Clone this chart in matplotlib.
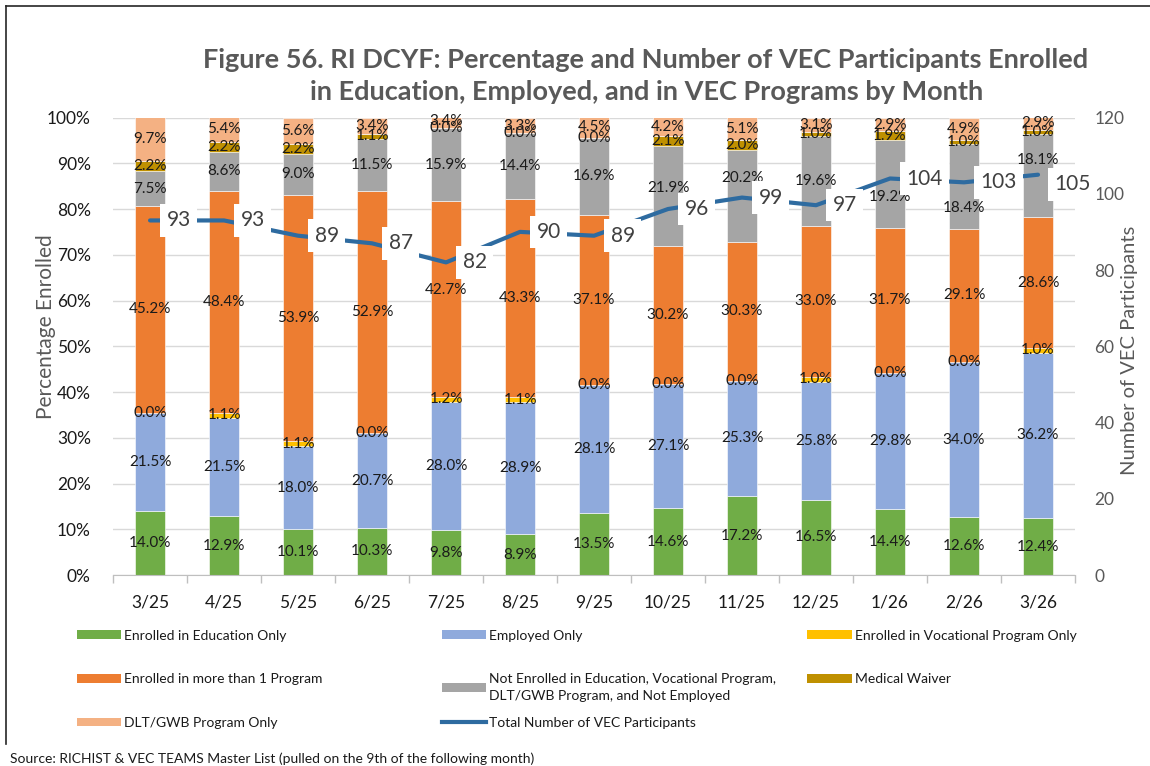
import numpy as np
import matplotlib
matplotlib.use('Agg')
import matplotlib.pyplot as plt
from matplotlib.patches import Patch
from matplotlib.lines import Line2D

plt.rcParams['font.family'] = ['Lato', 'DejaVu Sans']

# 月份与各类别百分比
months = ['3/25', '4/25', '5/25', '6/25', '7/25', '8/25', '9/25',
          '10/25', '11/25', '12/25', '1/26', '2/26', '3/26']
edu_only = [14.0, 12.9, 10.1, 10.3, 9.8, 8.9, 13.5, 14.6, 17.2, 16.5, 14.4, 12.6, 12.4]
employed_only = [21.5, 21.5, 18.0, 20.7, 28.0, 28.9, 28.1, 27.1, 25.3, 25.8, 29.8, 34.0, 36.2]
voc_only = [0.0, 1.1, 1.1, 0.0, 1.2, 1.1, 0.0, 0.0, 0.0, 1.0, 0.0, 0.0, 1.0]
multi_prog = [45.2, 48.4, 53.9, 52.9, 42.7, 43.3, 37.1, 30.2, 30.3, 33.0, 31.7, 29.1, 28.6]
not_enrolled = [7.5, 8.6, 9.0, 11.5, 15.9, 14.4, 16.9, 21.9, 20.2, 19.6, 19.2, 18.4, 18.1]
med_waiver = [2.2, 2.2, 2.2, 1.1, 0.0, 0.0, 0.0, 2.1, 2.0, 1.0, 1.9, 1.0, 1.0]
dlt_only = [9.7, 5.4, 5.6, 3.4, 3.4, 3.3, 4.5, 4.2, 5.1, 3.1, 2.9, 4.9, 2.9]
# VEC总人数
total_vec = [93, 93, 89, 87, 82, 90, 89, 96, 99, 97, 104, 103, 105]

# 部分数据标签手动挪开，避免与折线标签重叠（单位：百分点）
multi_nudge = [0, 0, 0, 0, 2.0, 0, 0, 0, 0, 0, 0, 0, 0]
not_enrolled_nudge = [0, 0, 0, 0, 0, 0, 0, 1.7, 3.9, 0, -2.8, -4.6, 3.5]
zero_nudge = [0] * len(months)
# 折线标签的竖直偏移（单位：磅）
total_nudge = [0, 0, 0, 0, 0, 0, 0, 0, 0, 0, 0, 0, -7]

series = [
    ('Enrolled in Education Only', edu_only, '#70AD47', zero_nudge),
    ('Employed Only', employed_only, '#8FAADC', zero_nudge),
    ('Enrolled in Vocational Program Only', voc_only, '#FFC000', zero_nudge),
    ('Enrolled in more than 1 Program', multi_prog, '#ED7D31', multi_nudge),
    ('Not Enrolled in Education, Vocational Program,\nDLT/GWB Program, and Not Employed',
     not_enrolled, '#A5A5A5', not_enrolled_nudge),
    ('Medical Waiver', med_waiver, '#BF9000', zero_nudge),
    ('DLT/GWB Program Only', dlt_only, '#F4B183', zero_nudge),
]
line_color = '#2E6BA0'

fig = plt.figure(figsize=(11.5, 7.66), dpi=100)
ax = fig.add_axes([0.0983, 0.2493, 0.8365, 0.5973])
x = np.arange(len(months))

# 堆积柱状图 + 数据标签
bottom = np.zeros(len(months))
handles = {}
for name, vals, color, nudge in series:
    vals = np.array(vals)
    ax.bar(x, vals, 0.405, bottom=bottom, color=color,
           edgecolor='white', linewidth=0.4, zorder=2)
    handles[name] = Patch(facecolor=color, label=name)
    for xi, b, v, dy in zip(x, bottom, vals, nudge):
        ax.text(xi, b + v / 2 + dy, '%.1f%%' % v, ha='center', va='center',
                fontsize=11, color='#1a1a1a', zorder=3)
    bottom += vals

ax.set_xlim(-0.5, len(months) - 0.5)
ax.set_ylim(0, 100)
ax.set_yticks(range(0, 101, 10))
ax.set_yticklabels(['%d%%' % v for v in range(0, 101, 10)])
ax.set_xticks(x)
ax.set_xticklabels(months)
ax.set_xticks(np.arange(-0.5, len(months)), minor=True)
ax.tick_params(axis='x', which='major', length=0, labelsize=12.5, pad=14, colors='#1a1a1a')
ax.tick_params(axis='x', which='minor', length=6, color='#BFBFBF', width=1)
ax.tick_params(axis='y', length=0, labelsize=12.5, pad=16, colors='#1a1a1a')
ax.grid(axis='y', color='#D9D9D9', linewidth=1, zorder=0)
ax.set_axisbelow(True)
for s in ['top', 'right', 'left']:
    ax.spines[s].set_visible(False)
ax.spines['bottom'].set_color('#BFBFBF')
ax.set_ylabel('Percentage Enrolled', fontsize=15, color='#595959')
ax.yaxis.set_label_coords(-0.059, 0.544)

# 次坐标轴：总人数折线
ax2 = ax.twinx()
ax2.plot(x, total_vec, color=line_color, linewidth=3, solid_capstyle='round', zorder=4)
for xi, v, dy in zip(x, total_vec, total_nudge):
    ax2.annotate(str(v), (xi, v), xytext=(12, dy), textcoords='offset points',
                 ha='left', va='center', fontsize=15, color='#404040', zorder=5,
                 annotation_clip=False,
                 bbox=dict(boxstyle='square,pad=0.3', fc='white', ec='none'))
ax2.set_ylim(0, 120)
ax2.set_yticks(range(0, 121, 20))
ax2.tick_params(axis='y', length=0, labelsize=12.5, pad=14, colors='#595959')
for s in ax2.spines.values():
    s.set_visible(False)
ax2.set_ylabel('Number of VEC Participants', fontsize=14.5, color='#595959')
ax2.yaxis.set_label_coords(1.048, 0.49)

fig.text(0.561, 0.922, 'Figure 56. RI DCYF: Percentage and Number of VEC Participants Enrolled',
         ha='center', va='center', fontsize=19.5, fontweight='bold', color='#595959')
fig.text(0.562, 0.880, 'in Education, Employed, and in VEC Programs by Month',
         ha='center', va='center', fontsize=19.5, fontweight='bold', color='#595959')

# 图例（逐项定位，三列）
handles['Total Number of VEC Participants'] = Line2D([0], [0], color=line_color, linewidth=3)
legend_order = [
    'Enrolled in Education Only', 'Employed Only', 'Enrolled in Vocational Program Only',
    'Enrolled in more than 1 Program', series[4][0], 'Medical Waiver',
    'DLT/GWB Program Only', 'Total Number of VEC Participants',
]
col_x = [0.067, 0.384, 0.702]
row_y = [0.178, 0.121, 0.064]
for k, name in enumerate(legend_order):
    r, c = divmod(k, 3)
    leg = fig.legend(handles=[handles[name]], labels=[name], loc='upper left',
                     bbox_to_anchor=(col_x[c], row_y[r]), frameon=False, fontsize=10,
                     handlelength=3.2, handleheight=0.6, handletextpad=0.2,
                     borderpad=0, borderaxespad=0, labelcolor='#1a1a1a')
    if '\n' in name:
        leg.get_texts()[0].set_linespacing(1.45)

fig.text(0.009, 0.010, 'Source: RICHIST & VEC TEAMS Master List (pulled on the 9th of the following month)',
         ha='left', va='center', fontsize=10, color='#1a1a1a')

# 外框线
fig.add_artist(Line2D([6 / 1150, 6 / 1150], [1 - 6 / 766, 1 - 744 / 766],
                      transform=fig.transFigure, color='#262626', linewidth=1.2))
fig.add_artist(Line2D([6 / 1150, 1], [1 - 6 / 766, 1 - 6 / 766],
                      transform=fig.transFigure, color='#262626', linewidth=1.2))

fig.savefig('out.png', dpi=100)
